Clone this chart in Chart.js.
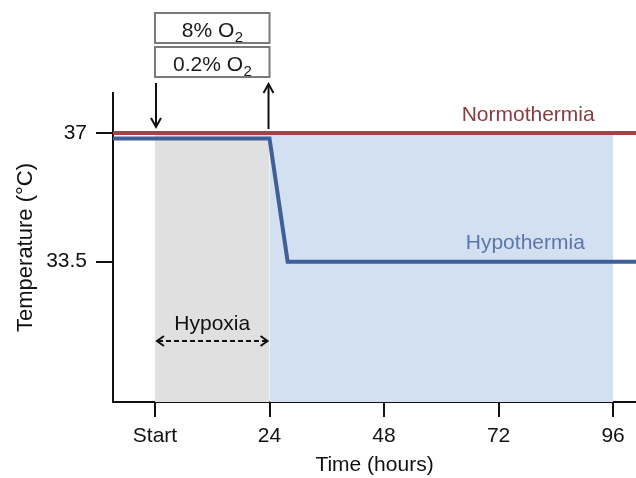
<!DOCTYPE html>
<html>
<head>
<meta charset="utf-8">
<script src="https://cdn.jsdelivr.net/npm/chart.js@4.4.1/dist/chart.umd.min.js"></script>
<style>
  html, body { margin: 0; padding: 0; background: #ffffff; }
  #wrap { width: 636px; height: 478px; position: relative; }
</style>
</head>
<body>
<div id="wrap"><canvas id="c" width="636" height="478"></canvas></div>
<script>
// ---- data ----
const xTickValues = [0, 24, 48, 72, 96];
const xTickLabels = ['Start', '24', '48', '72', '96'];
const yTickValues = [37, 33.5];

const normoHours = [-10, 102];
const normoTemps = [37, 37];

const hypoHours = [-10, 24, 27.8, 102];
const hypoTemps = [36.85, 36.85, 33.5, 33.5];

const hypoxiaHours = [0, 24];       // grey shaded window
const coolingHours = [24, 96];      // light blue shaded window
const shadeTop = 37;

const o2Labels = ['8% O', '0.2% O'];  // each followed by subscript 2
const o2Sub = '2';

const FONT = '"Liberation Sans", Arial, sans-serif';

function pts(xs, ys) { return xs.map((x, i) => ({ x: x, y: ys[i] })); }

const annotPlugin = {
  id: 'annot',
  afterDatasetsDraw(chart) {
    const ctx = chart.ctx;
    const xs = chart.scales.x, ys = chart.scales.y;
    const x0 = xs.getPixelForValue(hypoxiaHours[0]);
    const x1 = xs.getPixelForValue(hypoxiaHours[1]);
    ctx.save();
    // boxes
    ctx.lineWidth = 2;
    ctx.strokeStyle = '#7a7a7a';
    const boxTops = [13, 47];
    const boxH = 30;
    boxTops.forEach((t, i) => {
      ctx.fillStyle = '#ffffff';
      ctx.fillRect(x0, t, x1 - x0, boxH);
      ctx.strokeRect(x0, t, x1 - x0, boxH);
      ctx.fillStyle = '#1a1a1a';
      ctx.textBaseline = 'alphabetic';
      const main = o2Labels[i];
      ctx.font = '21px ' + FONT;
      const wMain = ctx.measureText(main).width;
      ctx.font = '15px ' + FONT;
      const wSub = ctx.measureText(o2Sub).width;
      const total = wMain + wSub;
      const cx = (x0 + x1) / 2;
      const sx = cx - total / 2;
      ctx.textAlign = 'left';
      ctx.font = '21px ' + FONT;
      ctx.fillText(main, sx, t + 23.5);
      ctx.font = '15px ' + FONT;
      ctx.fillText(o2Sub, sx + wMain + 0.5, t + 28.5);
    });
    // arrows
    ctx.strokeStyle = '#111';
    ctx.fillStyle = '#111';
    ctx.lineWidth = 2;
    const topY = 83, botY = ys.getPixelForValue(37) - 6;
    // down arrow at x0
    ctx.beginPath();
    ctx.moveTo(x0 + 1, topY); ctx.lineTo(x0 + 1, botY); ctx.stroke();
    ctx.beginPath();
    ctx.moveTo(x0 + 1 - 5, botY - 9); ctx.lineTo(x0 + 1, botY); ctx.lineTo(x0 + 1 + 5, botY - 9); ctx.stroke();
    // up arrow at x1
    ctx.beginPath();
    ctx.moveTo(x1 - 1, botY + 2); ctx.lineTo(x1 - 1, topY + 1); ctx.stroke();
    ctx.beginPath();
    ctx.moveTo(x1 - 1 - 5, topY + 10); ctx.lineTo(x1 - 1, topY + 1); ctx.lineTo(x1 - 1 + 5, topY + 10); ctx.stroke();

    // Hypoxia dashed double arrow
    const ay = ys.getPixelForValue(31.34);
    ctx.setLineDash([5, 3]);
    ctx.beginPath();
    ctx.moveTo(x0 + 3, ay); ctx.lineTo(x1 - 3, ay); ctx.stroke();
    ctx.setLineDash([]);
    ctx.beginPath();
    ctx.moveTo(x0 + 9, ay - 5); ctx.lineTo(x0 + 2, ay); ctx.lineTo(x0 + 9, ay + 5); ctx.stroke();
    ctx.beginPath();
    ctx.moveTo(x1 - 9, ay - 5); ctx.lineTo(x1 - 2, ay); ctx.lineTo(x1 - 9, ay + 5); ctx.stroke();
    ctx.font = '21px ' + FONT;
    ctx.textAlign = 'center';
    ctx.textBaseline = 'middle';
    ctx.fillStyle = '#111';
    ctx.fillText('Hypoxia', (x0 + x1) / 2, ys.getPixelForValue(31.8));

    // series labels
    ctx.fillStyle = '#8b3a3e';
    ctx.fillText('Normothermia', xs.getPixelForValue(78.2), ys.getPixelForValue(37.48));
    ctx.fillStyle = '#5a76ab';
    ctx.fillText('Hypothermia', xs.getPixelForValue(77.6), ys.getPixelForValue(34.0));
    ctx.restore();
  }
};

new Chart(document.getElementById('c'), {
  type: 'scatter',
  data: {
    datasets: [
      {
        label: 'Normothermia',
        data: pts(normoHours, normoTemps),
        showLine: true, borderColor: '#9e4548', borderWidth: 4,
        pointRadius: 0, fill: false, order: 1
      },
      {
        label: 'Hypothermia',
        data: pts(hypoHours, hypoTemps),
        showLine: true, borderColor: '#3f5f98', borderWidth: 4,
        pointRadius: 0, fill: false, order: 2, borderJoinStyle: 'miter'
      },
      {
        label: 'Cooling',
        data: pts(coolingHours, [shadeTop, shadeTop]),
        showLine: true, borderWidth: 0, borderColor: 'rgba(0,0,0,0)',
        backgroundColor: '#d3e0f2', pointRadius: 0, fill: 'start', order: 3
      },
      {
        label: 'Hypoxia',
        data: pts(hypoxiaHours, [shadeTop, shadeTop]),
        showLine: true, borderWidth: 0, borderColor: 'rgba(0,0,0,0)',
        backgroundColor: '#e0e0e0', pointRadius: 0, fill: 'start', order: 4
      }
    ]
  },
  options: {
    responsive: false,
    animation: false,
    events: [],
    layout: { padding: { top: 93, right: 0, left: 0, bottom: 0 } },
    plugins: { legend: { display: false }, tooltip: { enabled: false } },
    scales: {
      x: {
        type: 'linear',
        min: -8.8, max: 100.8,
        afterBuildTicks: s => { s.ticks = xTickValues.map(v => ({ value: v })); },
        afterFit: s => { s.height = 76; },
        ticks: {
          callback: (v) => { const i = xTickValues.indexOf(v); return i >= 0 ? xTickLabels[i] : ''; },
          color: '#111', font: { family: FONT, size: 21 }, padding: 7, maxRotation: 0, autoSkip: false
        },
        grid: { display: true, drawOnChartArea: false, drawTicks: true, tickLength: 15, color: '#111', lineWidth: 2 },
        border: { display: true, color: '#111', width: 2 },
        title: { display: true, text: 'Time (hours)', color: '#111', font: { family: FONT, size: 21 }, padding: { top: 0, bottom: 0 } }
      },
      y: {
        type: 'linear',
        min: 29.68, max: 38.09,
        afterBuildTicks: s => { s.ticks = yTickValues.map(v => ({ value: v })); },
        afterFit: s => { s.width = 113; },
        ticks: { color: '#111', font: { family: FONT, size: 21 }, padding: 9 },
        grid: { display: true, drawOnChartArea: false, drawTicks: true, tickLength: 17, color: '#111', lineWidth: 2 },
        border: { display: true, color: '#111', width: 2 },
        title: { display: true, text: 'Temperature (°C)', color: '#111', font: { family: FONT, size: 22 }, padding: { top: 13, bottom: 0 } }
      }
    }
  },
  plugins: [annotPlugin]
});
</script>
</body>
</html>
